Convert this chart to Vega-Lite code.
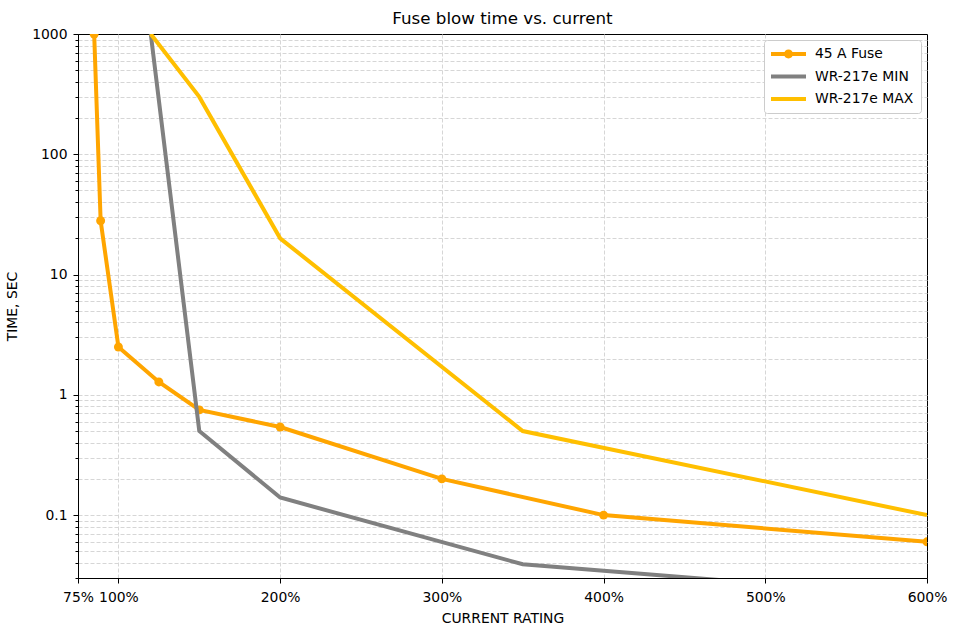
{
  "$schema": "https://vega.github.io/schema/vega-lite/v6.json",
  "width": 849,
  "height": 544,
  "autosize": {"type": "none"},
  "padding": {"left": 78, "top": 34, "right": 29, "bottom": 55},
  "background": "white",
  "config": {
    "font": "DejaVu Sans",
    "view": {"stroke": "black", "strokeWidth": 1},
    "axis": {
      "domainColor": "black",
      "tickColor": "black",
      "labelColor": "black",
      "titleColor": "black",
      "labelFont": "DejaVu Sans",
      "titleFont": "DejaVu Sans",
      "labelFontSize": 13.9,
      "titleFontSize": 13.9,
      "titleFontWeight": "normal",
      "gridColor": "#d6d6d6",
      "gridDash": [4, 2],
      "gridWidth": 1
    }
  },
  "title": {
    "text": "Fuse blow time vs. current",
    "font": "DejaVu Sans",
    "fontSize": 16.7,
    "fontWeight": "normal",
    "color": "black",
    "offset": -1
  },
  "data": {
    "values": [
      {"series": "45 A Fuse", "current": 85, "time": 1000},
      {"series": "45 A Fuse", "current": 89, "time": 28},
      {"series": "45 A Fuse", "current": 100, "time": 2.5},
      {"series": "45 A Fuse", "current": 125, "time": 1.28},
      {"series": "45 A Fuse", "current": 150, "time": 0.75},
      {"series": "45 A Fuse", "current": 200, "time": 0.54},
      {"series": "45 A Fuse", "current": 300, "time": 0.2},
      {"series": "45 A Fuse", "current": 400, "time": 0.1},
      {"series": "45 A Fuse", "current": 600, "time": 0.06},
      {"series": "WR-217e MIN", "current": 120, "time": 1000},
      {"series": "WR-217e MIN", "current": 150, "time": 0.5},
      {"series": "WR-217e MIN", "current": 200, "time": 0.14},
      {"series": "WR-217e MIN", "current": 350, "time": 0.039},
      {"series": "WR-217e MIN", "current": 600, "time": 0.021},
      {"series": "WR-217e MAX", "current": 120, "time": 1000},
      {"series": "WR-217e MAX", "current": 150, "time": 300},
      {"series": "WR-217e MAX", "current": 200, "time": 20},
      {"series": "WR-217e MAX", "current": 350, "time": 0.5},
      {"series": "WR-217e MAX", "current": 600, "time": 0.1}
    ]
  },
  "encoding": {
    "x": {
      "field": "current",
      "type": "quantitative",
      "title": "CURRENT RATING",
      "scale": {"domain": [75, 600], "nice": false, "zero": false},
      "axis": {
        "values": [75, 100, 200, 300, 400, 500, 600],
        "labelExpr": "datum.value + '%'",
        "labelOverlap": false,
        "labelFlush": false,
        "grid": true,
        "gridOpacity": {"condition": {"test": "datum.value === 600 || datum.value === 75", "value": 0}, "value": 1},
        "tickSize": 5,
        "labelPadding": 7,
        "titlePadding": 8
      }
    },
    "y": {
      "field": "time",
      "type": "quantitative",
      "title": "TIME, SEC",
      "scale": {"type": "log", "domain": [0.03, 1000], "nice": false},
      "axis": {
        "values": [0.03, 0.04, 0.05, 0.06, 0.07, 0.08, 0.09, 0.1, 0.2, 0.3, 0.4, 0.5, 0.6, 0.7, 0.8, 0.9, 1, 2, 3, 4, 5, 6, 7, 8, 9, 10, 20, 30, 40, 50, 60, 70, 80, 90, 100, 200, 300, 400, 500, 600, 700, 800, 900, 1000],
        "format": "~g",
        "labelExpr": "indexof([0.1, 1, 10, 100, 1000], datum.value) >= 0 ? datum.label : ''",
        "labelOverlap": false,
        "labelFlush": false,
        "tickSize": {"condition": {"test": "indexof([0.1, 1, 10, 100, 1000], datum.value) >= 0", "value": 5}, "value": 3},
        "grid": true,
        "gridOpacity": {"condition": {"test": "datum.value === 1000", "value": 0}, "value": 1},
        "labelPadding": 6,
        "titlePadding": 12
      }
    }
  },
  "layer": [
    {
      "transform": [{"filter": "datum.series === '45 A Fuse'"}],
      "mark": {"type": "line", "strokeWidth": 4, "color": "#FFA500", "clip": true},
      "encoding": {}
    },
    {
      "transform": [{"filter": "datum.series === '45 A Fuse'"}],
      "mark": {"type": "point", "filled": true, "size": 80, "opacity": 1, "color": "#FFA500", "clip": true}
    },
    {
      "transform": [{"filter": "datum.series === 'WR-217e MIN'"}],
      "mark": {"type": "line", "strokeWidth": 4, "color": "#808080", "clip": true},
      "encoding": {}
    },
    {
      "transform": [{"filter": "datum.series === 'WR-217e MAX'"}],
      "mark": {"type": "line", "strokeWidth": 4, "color": "#FFBF00", "clip": true},
      "encoding": {}
    },
    {
      "mark": {"type": "point", "filled": true, "opacity": 0, "clip": true},
      "encoding": {
        "color": {
          "field": "series",
          "type": "nominal",
          "scale": {"domain": ["45 A Fuse", "WR-217e MIN", "WR-217e MAX"], "range": ["#FFA500", "#808080", "#FFBF00"]},
          "legend": {
            "title": null,
            "orient": "top-right",
            "offset": 6,
            "padding": 7,
            "fillColor": "white",
            "strokeColor": "#cccccc",
            "cornerRadius": 3,
            "labelFont": "DejaVu Sans",
            "labelFontSize": 13.9,
            "labelColor": "black",
            "labelOffset": 30,
            "rowPadding": 8.5,
            "symbolSize": 196,
            "symbolOpacity": 1,
            "symbolStrokeWidth": 0
          }
        },
        "shape": {
          "field": "series",
          "type": "nominal",
          "scale": {
            "domain": ["45 A Fuse", "WR-217e MIN", "WR-217e MAX"],
            "range": [
              "M-1,-0.29L4,-0.29L4,0.29L-1,0.29Z M2.14,0A0.64,0.64 0 1,1 0.86,0A0.64,0.64 0 1,1 2.14,0Z",
              "M-1,-0.29L4,-0.29L4,0.29L-1,0.29Z",
              "M-1,-0.29L4,-0.29L4,0.29L-1,0.29Z"
            ]
          },
          "legend": {
            "title": null,
            "orient": "top-right",
            "offset": 6,
            "padding": 7,
            "fillColor": "white",
            "strokeColor": "#cccccc",
            "cornerRadius": 3,
            "labelFont": "DejaVu Sans",
            "labelFontSize": 13.9,
            "labelColor": "black",
            "labelOffset": 30,
            "rowPadding": 8.5,
            "symbolSize": 196,
            "symbolOpacity": 1,
            "symbolStrokeWidth": 0
          }
        }
      }
    }
  ]
}
